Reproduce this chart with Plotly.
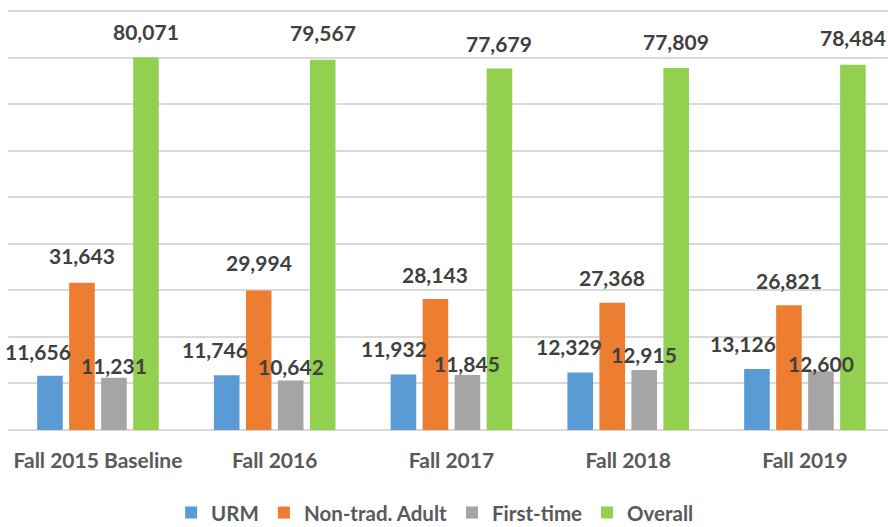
import plotly.graph_objects as go

categories = ["Fall 2015 Baseline", "Fall 2016", "Fall 2017", "Fall 2018", "Fall 2019"]
series_names = ["URM", "Non-trad. Adult", "First-time", "Overall"]
urm = [11656, 11746, 11932, 12329, 13126]
non_trad_adult = [31643, 29994, 28143, 27368, 26821]
first_time = [11231, 10642, 11845, 12915, 12600]
overall = [80071, 79567, 77679, 77809, 78484]

values = [urm, non_trad_adult, first_time, overall]
colors = ["#5B9BD5", "#ED7D31", "#A5A5A5", "#92D050"]

# label placement tweaks (pixels), mimicking the original label layout
label_xshift = [[-12, -11.5, -9, -11.5, -14], [0] * 5, [0] * 5, [0] * 5]
label_lift = [[24, 26, 25.5, 26.5, 25.5], [27, 28, 25, 25.5, 25],
              [12.5, 14, 11, 15.5, 7.5], [26, 27, 25.5, 26, 27]]

bargap = 0.276
slot = (1 - bargap) / 4

font_family = "Lato, 'Open Sans', Arial, sans-serif"

fig = go.Figure()
for name, vals, col in zip(series_names, values, colors):
    fig.add_trace(go.Bar(name=name, x=categories, y=vals, marker=dict(color=col, line=dict(width=0))))

annotations = []
for i, vals in enumerate(values):
    for k, v in enumerate(vals):
        annotations.append(dict(
            x=k + (i - 1.5) * slot, y=v, xref="x", yref="y",
            text=f"{v:,}", showarrow=False,
            xshift=label_xshift[i][k], yshift=label_lift[i][k],
            yanchor="middle", xanchor="center",
            font=dict(family=font_family, size=21, color="#404040", weight="bold"),
        ))

fig.update_layout(
    width=888, height=527,
    margin=dict(l=8, r=0, t=10, b=97, autoexpand=False),
    paper_bgcolor="white", plot_bgcolor="white",
    barmode="group", bargap=bargap, bargroupgap=0.2,
    annotations=annotations,
    showlegend=True,
    legend=dict(orientation="h", x=0.49, xanchor="center", xref="container",
                y=0.027, yanchor="middle", yref="container",
                font=dict(family=font_family, size=20.5, color="#595959", weight="bold"),
                itemwidth=30, traceorder="normal"),
    font=dict(family=font_family),
)
fig.update_xaxes(type="category", range=[-0.509, 4.470], showline=False, showgrid=False,
                 automargin=False,
                 ticks="outside", ticklen=12, tickcolor="rgba(0,0,0,0)",
                 tickfont=dict(family=font_family, size=21, color="#595959", weight="bold"))
fig.update_yaxes(range=[0, 90250], tick0=0, dtick=10000, showticklabels=False, showgrid=True,
                 automargin=False,
                 gridcolor="#D9D9D9", gridwidth=1.5, zeroline=True, zerolinecolor="#D9D9D9",
                 zerolinewidth=1.5, showline=False)

fig.write_html("out.html", config={"displayModeBar": False},
               post_script="document.body.style.margin='0';document.body.style.overflow='hidden';")
